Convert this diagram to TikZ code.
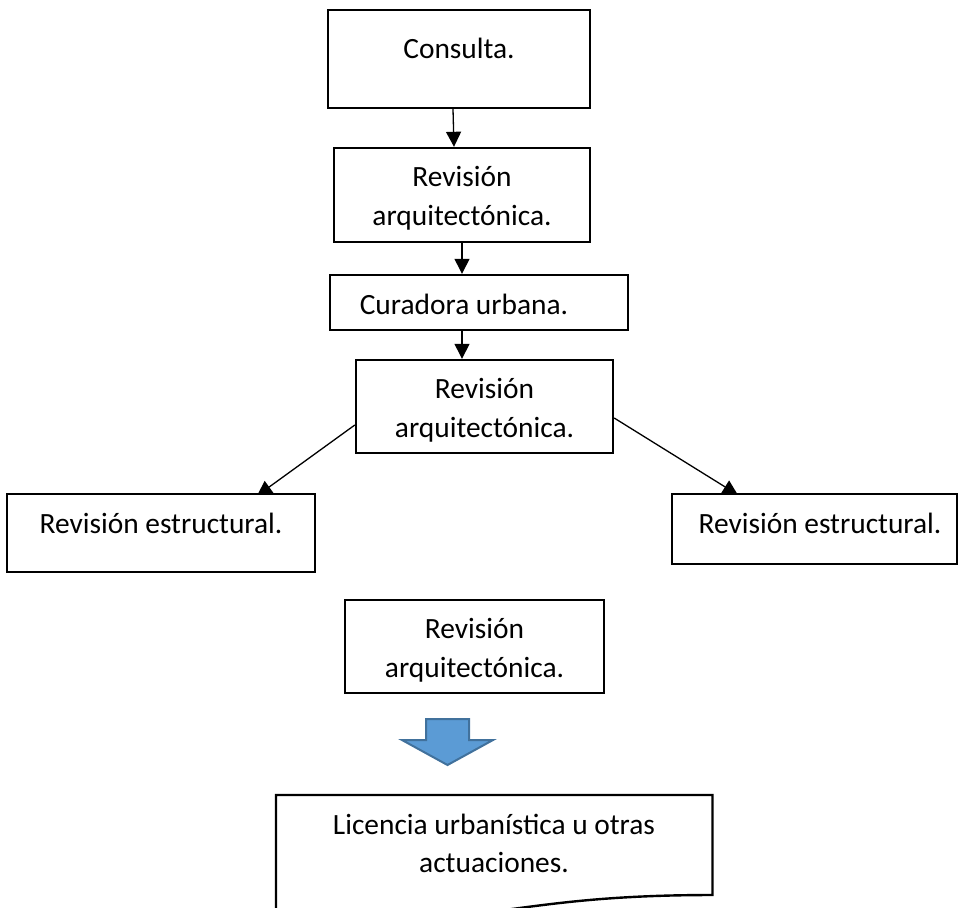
\documentclass[tikz,border=0pt]{standalone}
\usepackage{fontspec}
\setmainfont{Carlito}
\usetikzlibrary{arrows.meta}
\pgfdeclarelayer{bg}
\pgfsetlayers{bg,main}
\definecolor{flowblue}{HTML}{5B9BD5}
\definecolor{flowblueedge}{HTML}{41719C}
\begin{document}
\begin{tikzpicture}[x=0.5pt,y=-0.5pt,
  box/.style={draw=black, line width=1.2pt, fill=white, inner sep=0pt},
  txt/.style={anchor=base, inner sep=0pt, font=\fontsize{14.7}{19.5}\selectfont},
  link/.style={line width=0.65pt, -{Triangle[length=7.5pt,width=7.5pt]}},
  blockarrow/.style={draw=flowblueedge, line width=1pt, fill=flowblue, line join=miter}]
\useasboundingbox (0,0) rectangle (958,907);
\clip (0,0) rectangle (958,907);

% process boxes
\node[box, minimum width=131pt, minimum height=49pt] (c1) at (459,59) {};
\node[box, minimum width=128pt, minimum height=47pt] (b2) at (462,195) {};
\node[box, minimum width=149pt, minimum height=27.5pt] (cur) at (479,302.5) {};
\node[box, minimum width=128.5pt, minimum height=46.5pt] (b4) at (484.5,406.5) {};
\node[box, minimum width=154pt, minimum height=39pt] (lft) at (161,533) {};
\node[box, minimum width=142.5pt, minimum height=35pt] (rgt) at (814.5,529) {};
\node[box, minimum width=129.5pt, minimum height=46.5pt] (b5) at (474.5,646.5) {};

% box texts
\node[txt] (t1) at (459,58) {Consulta.};
\node[txt] (t2a) at (462,186) {Revisión};
\node[txt] (t2b) at (462,225) {arquitectónica.};
\node[txt] (t3) at (464,314) {Curadora urbana.};
\node[txt] (t4a) at (484.5,398) {Revisión};
\node[txt] (t4b) at (484.5,437) {arquitectónica.};
\node[txt] (t5) at (161,533) {Revisión estructural.};
\node[txt] (t6) at (820,533) {Revisión estructural.};
\node[txt] (t7a) at (474.5,638) {Revisión};
\node[txt] (t7b) at (474.5,677) {arquitectónica.};

% connectors, kept beneath the boxes
\begin{pgfonlayer}{bg}
\draw[link] ([xshift=-3pt]c1.south) -- ([xshift=-4pt]b2.north);
\draw[link] (b2.south) -- (b2.south |- cur.north);
\draw[link] (cur.south -| b2.south) -- (b4.north -| b2.south);
\draw[link] ([yshift=-9.25pt]b4.west) -- ([xshift=48pt,yshift=-1.5pt]lft.north);
\draw[link] ([yshift=-5.75pt]b4.east) -- ([xshift=33.5pt,yshift=-1pt]rgt.north west);
\end{pgfonlayer}

% block arrow
\draw[blockarrow] (426,719) -- (469,719) -- (469,740) -- (493,740) -- (447.5,765)
  -- (402,740) -- (426,740) -- cycle;

% document shape with wavy lower edge
\draw[box] (276,795) -- (712.5,795) -- (712.5,895)
  .. controls (494,895) and (494,933) .. (276,911.5) -- cycle;
\node[txt] (t8a) at (494,834) {Licencia urbanística u otras};
\node[txt] (t8b) at (494,872) {actuaciones.};
\end{tikzpicture}
\end{document}
